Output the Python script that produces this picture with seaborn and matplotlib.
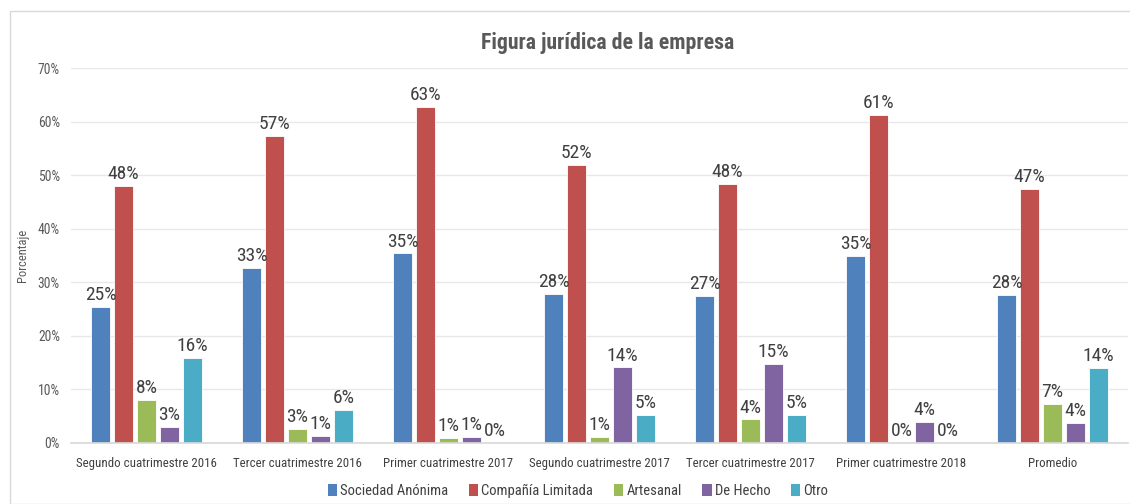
import matplotlib
matplotlib.use("Agg")
import matplotlib.pyplot as plt
from matplotlib import font_manager
from matplotlib.patches import Rectangle, Patch
import seaborn as sns
import pandas as pd

categories = ["Segundo cuatrimestre 2016", "Tercer cuatrimestre 2016", "Primer cuatrimestre 2017",
              "Segundo cuatrimestre 2017", "Tercer cuatrimestre 2017", "Primer cuatrimestre 2018",
              "Promedio"]
series = ["Sociedad Anónima", "Compañía Limitada", "Artesanal", "De Hecho", "Otro"]
sociedad_anonima = [25.4, 32.7, 35.4, 27.9, 27.4, 35.0, 27.7]
compania_limitada = [48.0, 57.4, 62.7, 51.9, 48.3, 61.2, 47.4]
artesanal = [8.0, 2.7, 0.9, 1.2, 4.4, 0.0, 7.3]
de_hecho = [3.0, 1.4, 1.2, 14.1, 14.7, 3.9, 3.8]
otro = [15.9, 6.2, 0.0, 5.2, 5.3, 0.0, 14.0]
yticks = [0, 10, 20, 30, 40, 50, 60, 70]
colors = ["#4F81BD", "#C0504D", "#9BBB59", "#8064A2", "#4BACC6"]

values = [sociedad_anonima, compania_limitada, artesanal, de_hecho, otro]
rows = []
for s, vals in zip(series, values):
    for c, v in zip(categories, vals):
        rows.append({"cat": c, "serie": s, "val": v})
df = pd.DataFrame(rows)

sns.set_theme(style="white")
avail = {f.name for f in font_manager.fontManager.ttflist}
fam = "Liberation Sans"
for cand in ["Liberation Sans Narrow", "Roboto Condensed", "Open Sans Condensed", "Noto Sans", "Lato"]:
    if cand in avail:
        fam = cand
        break
plt.rcParams["font.family"] = [fam, "DejaVu Sans"]

fig = plt.figure(figsize=(11.3, 5.04), dpi=100)
renderer = fig.canvas.get_renderer()


def fit(s, target_px, weight="normal", cap=None):
    t = fig.text(0, 0, s, fontsize=10, fontweight=weight)
    w = t.get_window_extent(renderer).width
    t.remove()
    size = 10 * target_px / w
    if cap is not None:
        size = min(size, cap)
    return size


fs_tick = fit("Segundo cuatrimestre 2016", 139, cap=11)
fs_lab = fit("48%", 32, cap=14)
fs_title = fit("Figura jurídica de la empresa", 253, weight="bold", cap=16)
fs_leg = fit("Sociedad Anónima", 108, cap=11)
fs_ytick = fit("70%", 22, cap=11)
fs_ylab = fit("Porcentaje", 63, cap=9)

ax = fig.add_axes([71 / 1130, 1 - 443 / 504, (1128 - 71) / 1130, (443 - 68) / 504])

sns.barplot(data=df, x="cat", y="val", hue="serie", order=categories, hue_order=series,
            palette=colors, width=0.76, gap=0.2, ax=ax, legend=False,
            edgecolor="white", linewidth=0.6, saturation=1)

for cont, vals in zip(ax.containers, values):
    ax.bar_label(cont, labels=[f"{round(v)}%" for v in vals], padding=2,
                 fontsize=fs_lab, color="#404040")

ax.set_ylim(0, 70)
ax.set_xlim(-0.5, len(categories) - 0.5)
ax.set_yticks(yticks)
ax.set_yticklabels([f"{t}%" for t in yticks], fontsize=fs_ytick, color="#595959")
ax.tick_params(axis="x", labelsize=fs_tick, labelcolor="#404040", length=0, pad=10)
ax.tick_params(axis="y", length=0, pad=8)
ax.set_xlabel("")
ax.set_ylabel("Porcentaje", fontsize=fs_ylab, color="#595959")
ax.yaxis.set_label_coords((29 - 71) / 1057, 0.5)
ax.grid(axis="y", color="#E8E8E8", linewidth=1)
ax.set_axisbelow(True)
for sp in ["top", "right", "left"]:
    ax.spines[sp].set_visible(False)
ax.spines["bottom"].set_color("#D9D9D9")

fig.text(608 / 1130, 1 - 43 / 504, "Figura jurídica de la empresa", ha="center", va="center",
         fontsize=fs_title, fontweight="bold", color="#595959")

handles = [Patch(facecolor=c, edgecolor="none") for c in colors]
fig.legend(handles, series, loc="center", bbox_to_anchor=(578 / 1130, 1 - 491 / 504), ncol=5,
           frameon=False, fontsize=fs_leg, handlelength=0.65, handleheight=0.8,
           handletextpad=0.2, columnspacing=1.4, labelcolor="#404040")

fig.patches.append(Rectangle((9.5 / 1130, 0), 1.2, 1 - 11 / 504, transform=fig.transFigure,
                             fill=False, edgecolor="#D9D9D9", linewidth=1))

fig.savefig("out.png", dpi=100)
